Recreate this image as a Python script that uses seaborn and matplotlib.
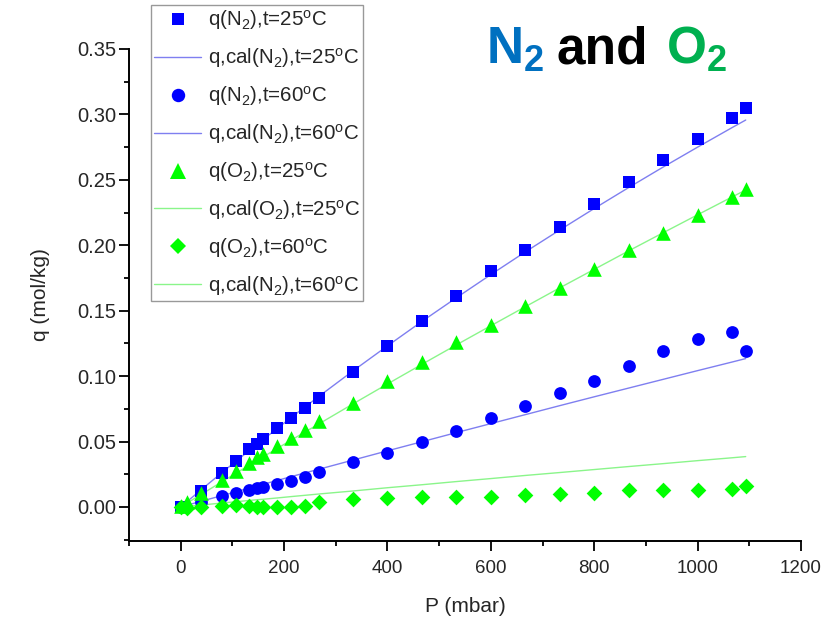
import numpy as np
import pandas as pd
import matplotlib
matplotlib.use("Agg")
import matplotlib.pyplot as plt
from matplotlib.ticker import MultipleLocator
from matplotlib.lines import Line2D
import seaborn as sns

# ---- data -------------------------------------------------------------
# pressures (mbar)
p_n2 = [0, 40, 80, 107, 133, 147, 160, 187, 213, 240, 267, 333, 400, 467,
        533, 600, 667, 733, 800, 867, 933, 1000, 1067, 1093]
p_o2 = [0, 13, 40, 80, 107, 133, 147, 160, 187, 213, 240, 267, 333, 400, 467,
        533, 600, 667, 733, 800, 867, 933, 1000, 1067, 1093]

# measured uptake (mol/kg)
q_n2_25 = [0.0, 0.012, 0.026, 0.035, 0.044, 0.048, 0.052, 0.060, 0.068, 0.076,
           0.083, 0.103, 0.123, 0.142, 0.1616, 0.180, 0.196, 0.214, 0.2314,
           0.248, 0.2648, 0.281, 0.2974, 0.3046]
q_n2_60 = [0.0, 0.004, 0.008, 0.011, 0.013, 0.0145, 0.0155, 0.0175, 0.020,
           0.023, 0.027, 0.034, 0.0415, 0.050, 0.058, 0.068, 0.077, 0.087,
           0.0963, 0.108, 0.1195, 0.128, 0.1336, 0.119]
q_o2_25 = [0.001, 0.004, 0.0107, 0.0204, 0.0275, 0.0336, 0.038, 0.0408, 0.0467,
           0.053, 0.0592, 0.0658, 0.0798, 0.0961, 0.1109, 0.1257, 0.1394,
           0.1534, 0.1677, 0.1817, 0.196, 0.2095, 0.223, 0.237, 0.2429]
q_o2_60 = [0.0, -0.0005, 0.0, 0.001, 0.0015, 0.001, 0.0, 0.0, 0.0, 0.0, 0.0005,
           0.0035, 0.006, 0.0068, 0.0075, 0.0077, 0.0078, 0.0088, 0.0102,
           0.0103, 0.0128, 0.0128, 0.0128, 0.0138, 0.016]

# calculated uptake (mol/kg)
qc_n2_25 = [0.0, 0.0133, 0.0263, 0.0350, 0.0432, 0.0477, 0.0517, 0.0601,
            0.0681, 0.0763, 0.0844, 0.1039, 0.1231, 0.1419, 0.1598, 0.1776,
            0.1950, 0.2116, 0.2281, 0.2442, 0.2597, 0.2750, 0.2900, 0.2957]
qc_n2_60 = [0.0, 0.0044, 0.0087, 0.0116, 0.0145, 0.0160, 0.0174, 0.0203,
            0.0231, 0.0260, 0.0288, 0.0358, 0.0429, 0.0499, 0.0568, 0.0637,
            0.0706, 0.0774, 0.0842, 0.0909, 0.0975, 0.1042, 0.1108, 0.1134]
qc_o2_25 = [0.0, 0.0032, 0.0097, 0.0193, 0.0258, 0.0320, 0.0353, 0.0384,
            0.0448, 0.0509, 0.0572, 0.0634, 0.0787, 0.0940, 0.1091, 0.1238,
            0.1385, 0.1531, 0.1674, 0.1816, 0.1958, 0.2095, 0.2233, 0.2370,
            0.2422]
qc_o2_60 = [0.0, 0.0005, 0.0015, 0.0030, 0.0040, 0.0050, 0.0055, 0.0059,
            0.0069, 0.0079, 0.0089, 0.0099, 0.0122, 0.0147, 0.0170, 0.0194,
            0.0217, 0.0241, 0.0263, 0.0286, 0.0309, 0.0331, 0.0354, 0.0376,
            0.0385]

labels = [r"q(N$_2$),t=25$^{o}$C", r"q,cal(N$_2$),t=25$^{o}$C",
          r"q(N$_2$),t=60$^{o}$C", r"q,cal(N$_2$),t=60$^{o}$C",
          r"q(O$_2$),t=25$^{o}$C", r"q,cal(O$_2$),t=25$^{o}$C",
          r"q(O$_2$),t=60$^{o}$C", r"q,cal(N$_2$),t=60$^{o}$C"]

# ---- style ------------------------------------------------------------
sns.set_style("ticks")
plt.rcParams["font.family"] = ["Liberation Sans", "DejaVu Sans"]
plt.rcParams["mathtext.fontset"] = "custom"
plt.rcParams["mathtext.rm"] = "Liberation Sans"
plt.rcParams["mathtext.it"] = "Liberation Sans:italic"
plt.rcParams["mathtext.bf"] = "Liberation Sans:bold"
plt.rcParams["mathtext.default"] = "regular"

BLUE = "#0000FF"
GREEN = "#00FF00"
BLUE_FIT = "#7F7FF0"
GREEN_FIT = "#8AF58A"

fig = plt.figure(figsize=(8.35, 6.17), dpi=100)
ax = fig.add_axes([0.1545, 0.1232, 0.8048, 0.7974])

series = [
    (p_n2, q_n2_25, qc_n2_25, BLUE, BLUE_FIT, "s", 8.3),
    (p_n2, q_n2_60, qc_n2_60, BLUE, BLUE_FIT, "o", 9.2),
    (p_o2, q_o2_25, qc_o2_25, GREEN, GREEN_FIT, "^", 10.5),
    (p_o2, q_o2_60, qc_o2_60, GREEN, GREEN_FIT, "D", 8.0),
]

handles = []
for p, q, qc, col, fcol, mk, ms in series:
    sns.lineplot(x=p, y=qc, ax=ax, color=fcol, lw=1.0, sort=False,
                 estimator=None, zorder=2)
    sns.scatterplot(x=p, y=q, ax=ax, color=col, marker=mk, s=ms ** 2,
                    linewidth=0, zorder=3)
    handles.append(Line2D([], [], ls="none", marker=mk, color=col,
                          markersize=ms * 1.05, markeredgewidth=0))
    handles.append(Line2D([], [], color=fcol, lw=1.0))

# ---- axes -------------------------------------------------------------
ax.set_xlim(-100, 1200)
ax.set_ylim(-0.026, 0.35)
ax.xaxis.set_major_locator(MultipleLocator(200))
ax.xaxis.set_minor_locator(MultipleLocator(100))
ax.yaxis.set_major_locator(MultipleLocator(0.05))
ax.yaxis.set_minor_locator(MultipleLocator(0.025))
ax.yaxis.set_major_formatter(matplotlib.ticker.FormatStrFormatter("%.2f"))
for s in ("top", "right"):
    ax.spines[s].set_visible(False)
for s in ("left", "bottom"):
    ax.spines[s].set_linewidth(1.4)
    ax.spines[s].set_color("black")
ax.tick_params(which="major", direction="out", length=7, width=1.3,
               color="black")
ax.tick_params(which="minor", direction="out", length=3.5, width=1.3,
               color="black")
ax.tick_params(axis="x", which="both", bottom=True, labelsize=13.5, pad=7)
ax.tick_params(axis="y", which="both", left=True, labelsize=14.5, pad=2)
ax.set_xlabel("P (mbar)", fontsize=15, labelpad=14)
ax.set_ylabel("q (mol/kg)", fontsize=15, labelpad=20)

leg = ax.legend(handles, labels, loc="upper left",
                bbox_to_anchor=(151 / 835, 1 - 5 / 617),
                bbox_transform=fig.transFigure, borderaxespad=0,
                fontsize=14.8, frameon=True, fancybox=False, framealpha=1,
                edgecolor="#999999", handlelength=2.3, handletextpad=0.3,
                borderpad=0.15, labelspacing=0.68)
leg.get_frame().set_linewidth(1.0)

# ---- heading ----------------------------------------------------------
fy = 1 - 64 / 617
fig.text(486 / 835, fy, r"$\mathbf{N_2}$", color="#0070C0", fontsize=37,
         fontweight="bold", va="baseline", ha="left")
fig.text(557 / 835, fy, "and", color="black", fontsize=37,
         fontweight="bold", va="baseline", ha="left")
fig.text(666 / 835, fy, r"$\mathbf{O_2}$", color="#00B050", fontsize=37,
         fontweight="bold", va="baseline", ha="left")

fig.savefig("out.png", dpi=100)
